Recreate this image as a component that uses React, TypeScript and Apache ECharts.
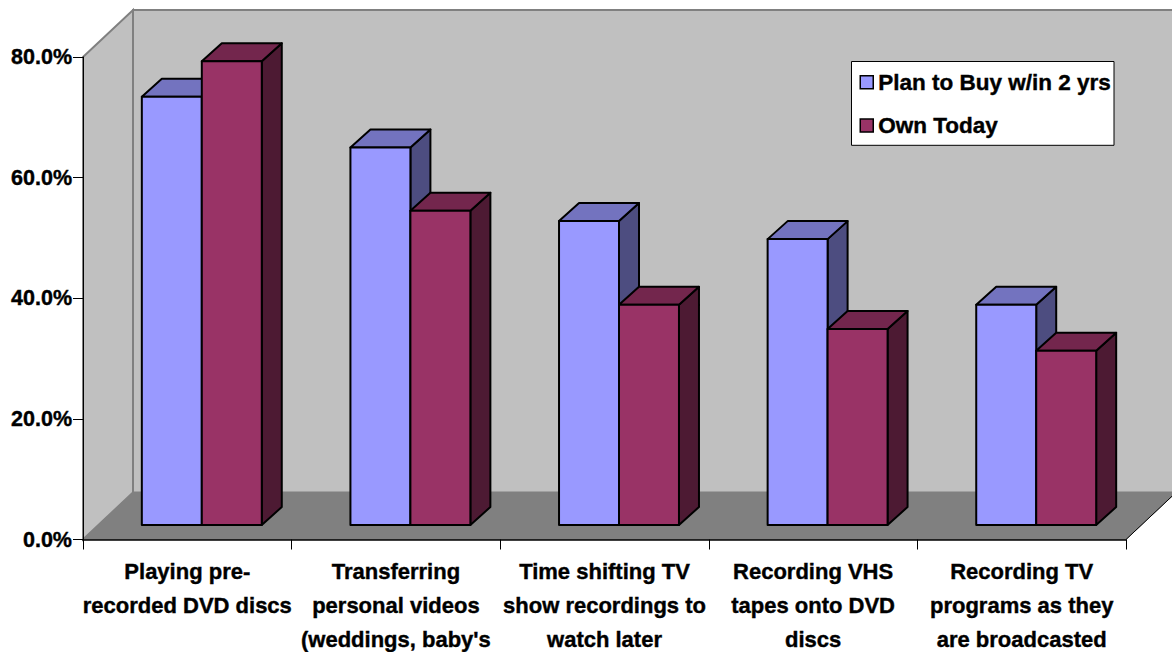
import React, { useEffect, useRef } from "react";
import * as echarts from "echarts";

const categories = [
  "Playing pre-\nrecorded DVD discs",
  "Transferring\npersonal videos\n(weddings, baby's",
  "Time shifting TV\nshow recordings to\nwatch later",
  "Recording VHS\ntapes onto DVD\ndiscs",
  "Recording TV\nprograms as they\nare broadcasted",
];
const planToBuy = [71, 62.6, 50.4, 47.4, 36.5];
const ownToday = [76.9, 52.1, 36.5, 32.5, 28.9];
const seriesNames = ["Plan to Buy w/in 2 yrs", "Own Today"];
const FONT = "'Liberation Sans', Arial, sans-serif";

function makeBarRender(side: number, front: string, top: string, right: string) {
  return (params: any, api: any) => {
    const cat = api.value(0);
    const val = api.value(1);
    const catW = api.size([1, 0])[0];
    const w = catW * 0.2875;
    const base = api.coord([cat, 0]);
    const topPt = api.coord([cat, val]);
    const shift = 14.5;
    const dx = 20;
    const dy = -18;
    const l = base[0] + shift + (side === 0 ? -w : 0);
    const r = l + w;
    const b = base[1] - shift;
    const t = topPt[1] - shift;
    const stroke = { stroke: "#000", lineWidth: 2, lineJoin: "round" };
    return {
      type: "group",
      children: [
        { type: "polygon", shape: { points: [[r, t], [r + dx, t + dy], [r + dx, b + dy], [r, b]] }, style: { fill: right, ...stroke } },
        { type: "polygon", shape: { points: [[l, t], [l + dx, t + dy], [r + dx, t + dy], [r, t]] }, style: { fill: top, ...stroke } },
        { type: "rect", shape: { x: l, y: t, width: w, height: b - t }, style: { fill: front, ...stroke } },
      ],
    };
  };
}

function renderRoom(params: any, api: any) {
  const catW = api.size([1, 0])[0];
  const p0 = api.coord([0, 0]);
  const pTop = api.coord([0, 80]);
  const x0 = p0[0] - catW / 2;
  const x1 = x0 + catW * 5;
  const y0 = p0[1];
  const yT = pTop[1];
  const dx = 50;
  const dy = -47;
  const grey = { stroke: "#808080", lineWidth: 2 };
  return {
    type: "group",
    children: [
      { type: "polygon", shape: { points: [[x0 + dx, yT + dy], [x1 + dx, yT + dy], [x1 + dx, y0 + dy], [x0 + dx, y0 + dy]] }, style: { fill: "#c0c0c0", ...grey } },
      { type: "polygon", shape: { points: [[x0, yT], [x0 + dx, yT + dy], [x0 + dx, y0 + dy], [x0, y0]] }, style: { fill: "#c0c0c0", ...grey } },
      { type: "polygon", shape: { points: [[x0, y0], [x0 + dx, y0 + dy], [x1 + dx, y0 + dy], [x1, y0]] }, style: { fill: "#808080", stroke: "#808080", lineWidth: 1 } },
      { type: "line", shape: { x1: x1, y1: y0, x2: x1 + dx, y2: y0 + dy }, style: { stroke: "#000", lineWidth: 1 } },
    ],
  };
}

export default function App() {
  const ref = useRef<HTMLDivElement>(null);
  useEffect(() => {
    document.body.style.margin = "0";
    const chart = echarts.init(ref.current!, undefined, { renderer: "svg" });
    const heavy = { textBorderColor: "#000", textBorderWidth: 0.4 };
    chart.setOption({
      animation: false,
      backgroundColor: "#fff",
      grid: { left: 83, top: 57, width: 1043, height: 482.5, outerBoundsMode: "none", containLabel: false },
      legend: {
        data: seriesNames,
        left: 851.5,
        top: 61.5,
        orient: "vertical",
        backgroundColor: "#fff",
        borderColor: "#000",
        borderWidth: 1,
        borderRadius: 0,
        padding: [9, 3, 8, 8],
        itemWidth: 13,
        itemHeight: 13,
        itemGap: 20,
        icon: "rect",
        itemStyle: { borderColor: "#000", borderWidth: 1.5 },
        textStyle: { fontFamily: FONT, fontWeight: "bold", fontSize: 22.5, color: "#000", ...heavy },
      },
      xAxis: {
        type: "category",
        data: categories,
        z: 10,
        axisLine: { lineStyle: { color: "#000", width: 1.5 } },
        axisTick: { show: true, alignWithLabel: false, length: 10, lineStyle: { color: "#000", width: 1 } },
        axisLabel: { interval: 0, margin: 15, fontFamily: FONT, fontWeight: "bold", fontSize: 22, lineHeight: 34, color: "#000", ...heavy },
      },
      yAxis: {
        type: "value",
        min: 0,
        max: 80,
        interval: 20,
        z: 10,
        splitLine: { show: false },
        axisLine: { show: true, lineStyle: { color: "#000", width: 1 } },
        axisTick: { show: true, length: 10, lineStyle: { color: "#000", width: 1 } },
        axisLabel: { margin: 11, fontFamily: FONT, fontWeight: "bold", fontSize: 21.5, color: "#000", formatter: (v: number) => v.toFixed(1) + "%", ...heavy },
      },
      series: [
        { type: "custom", name: "room", silent: true, renderItem: renderRoom, data: [[0, 0]], encode: { x: 0, y: 1 } },
        {
          type: "custom",
          name: seriesNames[0],
          itemStyle: { color: "#9999ff" },
          renderItem: makeBarRender(0, "#9999ff", "#7373bf", "#4d4d80"),
          data: planToBuy.map((v, i) => [i, v]),
          encode: { x: 0, y: 1 },
        },
        {
          type: "custom",
          name: seriesNames[1],
          itemStyle: { color: "#993366" },
          renderItem: makeBarRender(1, "#993366", "#73264d", "#4d1a33"),
          data: ownToday.map((v, i) => [i, v]),
          encode: { x: 0, y: 1 },
        },
      ],
    });
    return () => chart.dispose();
  }, []);
  return <div ref={ref} style={{ position: "absolute", left: 0, top: 0, width: 1172, height: 652 }} />;
}
